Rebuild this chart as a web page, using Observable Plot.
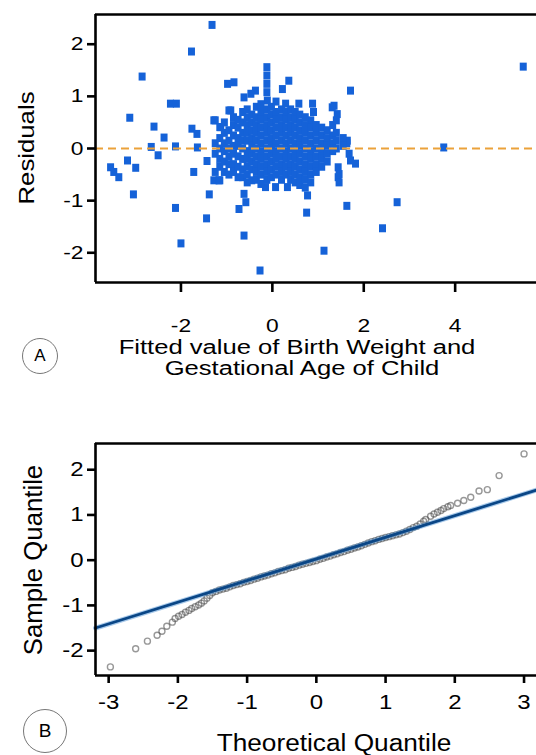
<!DOCTYPE html>
<html><head><meta charset="utf-8">
<script src="https://cdn.jsdelivr.net/npm/d3@7"></script>
<script src="https://cdn.jsdelivr.net/npm/@observablehq/plot@0.6"></script>
<style>
body{margin:0;background:#fff;font-family:"Liberation Sans",Arial,sans-serif;}
#wrap{position:relative;width:536px;height:755px;overflow:hidden;background:#fff}
#wrap svg{position:absolute;left:0}
.t{position:absolute;white-space:nowrap;color:#000;line-height:1;font-family:"Liberation Sans",Arial,sans-serif}
.circ{position:absolute;border:1px solid #777;border-radius:50%;background:#fff;display:flex;align-items:center;justify-content:center;font-family:"Liberation Sans",Arial,sans-serif;color:#000;box-sizing:border-box}
</style></head>
<body><div id="wrap"></div>
<script>
// ---------- Panel A data: fitted value vs residual ----------
const outliersA = [
  [-1.32,2.37],[-1.77,1.86],[-2.85,1.38],[-2.23,0.86],[-2.10,0.86],[-3.12,0.59],
  [-2.59,0.42],[-2.37,0.21],[-2.65,0.03],[-2.50,-0.13],[-2.12,0.04],[-1.64,0.02],
  [-1.76,0.38],[-1.65,0.28],[-3.54,-0.36],[-3.47,-0.45],[-3.36,-0.55],[-3.17,-0.23],
  [-2.99,-0.37],[-3.04,-0.88],[-2.12,-1.14],[-2.00,-1.82],[-1.72,-0.45],[-1.38,-0.88],
  [-1.44,-1.34],[-0.62,-1.67],[-0.27,-2.34],[-1.43,-0.24],[-1.28,-0.61],[-1.17,-0.61],
  [-0.73,-1.16],[-0.62,-0.87],[-0.58,-1.03],[-0.98,1.24],[-0.84,1.27],[-0.37,1.11],
  [-0.47,1.05],[-0.62,0.98],[-0.91,0.73],[-1.28,0.54],[-1.13,0.41],[-0.12,1.56],
  [-0.12,1.40],[-0.12,1.24],[-0.12,1.08],[-0.11,0.92],[0.36,1.30],[0.22,1.14],
  [1.71,1.11],[0.88,0.86],[1.35,0.82],[1.42,0.66],[1.31,0.79],[0.58,0.86],[0.29,0.86],
  [0.84,0.54],[1.64,0.15],[1.63,0.10],[1.82,-0.29],[1.68,-0.10],[1.44,-0.36],[1.44,-0.55],
  [1.46,-0.49],[1.46,-0.65],[1.71,-0.23],[1.63,-1.10],[0.75,-1.23],[1.13,-1.96],
  [2.41,-1.53],[2.73,-1.03],[3.75,0.02],[5.49,1.57],[0.77,-0.90],[-0.15,-0.74],
  [0.07,-0.74],[0.33,-0.74]
];
const clusterColumnsA = [
  [-1.25,[0.54,0.10,-0.10,-0.45]],
  [-1.15,[0.41,0.20,0.00,-0.20,-0.35,-0.61]],
  [-1.05,[0.50,0.30,0.10,-0.05,-0.25,-0.45]],
  [-0.95,[0.73,0.35,0.15,0.00,-0.15,-0.30,-0.50]],
  [-0.85,[0.60,0.45,0.25,0.05,-0.10,-0.30,-0.45]],
  [-0.75,[0.55,0.40,0.20,0.05,-0.15,-0.35,-0.55]],
  [-0.65,[0.70,0.50,0.30,0.15,0.00,-0.20,-0.40,-0.55]],
  [-0.55,[0.75,0.60,0.45,0.30,0.15,-0.05,-0.20,-0.35,-0.50,-0.65]],
  [-0.45,[0.65,0.50,0.35,0.20,0.05,-0.10,-0.25,-0.40,-0.61]],
  [-0.35,[0.80,0.60,0.45,0.30,0.15,0.00,-0.15,-0.30,-0.45,-0.60]],
  [-0.25,[0.85,0.70,0.55,0.40,0.25,0.10,-0.05,-0.20,-0.35,-0.50,-0.68]],
  [-0.12,[0.75,0.60,0.45,0.30,0.15,0.00,-0.15,-0.30,-0.45,-0.60]],
  [-0.02,[0.80,0.65,0.50,0.35,0.20,0.05,-0.10,-0.25,-0.40,-0.55]],
  [0.08,[0.90,0.70,0.55,0.40,0.25,0.10,-0.05,-0.20,-0.35,-0.50]],
  [0.20,[0.75,0.60,0.45,0.30,0.15,0.00,-0.15,-0.30,-0.45,-0.60]],
  [0.30,[0.70,0.55,0.40,0.25,0.10,-0.05,-0.20,-0.35,-0.50]],
  [0.40,[0.75,0.60,0.45,0.30,0.15,0.00,-0.15,-0.30,-0.45,-0.60]],
  [0.50,[0.70,0.55,0.40,0.25,0.10,-0.05,-0.20,-0.35,-0.50,-0.65]],
  [0.60,[0.65,0.50,0.35,0.20,0.05,-0.10,-0.25,-0.40,-0.55,-0.70]],
  [0.72,[0.60,0.45,0.30,0.15,0.00,-0.15,-0.30,-0.45,-0.60,-0.75]],
  [0.84,[0.40,0.25,0.10,-0.05,-0.20,-0.35,-0.50,-0.65]],
  [0.90,[0.70]],
  [0.96,[0.45,0.30,0.15,0.00,-0.15,-0.30,-0.45]],
  [1.08,[0.40,0.25,0.10,-0.05,-0.20,-0.35]],
  [1.20,[0.35,0.20,0.05,-0.10,-0.25]],
  [1.32,[0.45,0.25,0.10,-0.05]],
  [1.40,[0.54,0.30,0.15,0.00]],
  [1.55,[0.20,0.05]]
];
const residualsA = outliersA.concat(clusterColumnsA.flatMap(([x, ys]) => ys.map(y => [x, y])));
const xTicksA = [-2, 0, 2, 4];
const yTicksA = [-2, -1, 0, 1, 2];
const xDomainA = [-3.87, 5.78];
const yDomainA = [-2.57, 2.57];

// ---------- Panel B data: normal Q-Q plot ----------
const qqTheoretical = [
  -2.975,-2.61,-2.44,-2.30,-2.23,-2.16,-2.08,-2.04,-1.99,-1.94,-1.89,-1.84,-1.80,-1.75,-1.70,-1.66,-1.62,-1.58,-1.54,
  -1.50,-1.45,-1.40,-1.35,-1.30,-1.25,-1.20,-1.15,-1.10,-1.05,-1.00,-0.95,-0.90,-0.85,-0.80,-0.75,-0.70,-0.65,-0.60,
  -0.55,-0.50,-0.45,-0.40,-0.35,-0.30,-0.25,-0.20,-0.15,-0.10,-0.05,0.00,0.05,0.10,0.15,0.20,0.25,0.30,0.35,0.40,
  0.45,0.50,0.55,0.60,0.65,0.70,0.75,0.80,0.85,0.90,0.95,1.00,1.05,1.10,1.15,1.20,1.25,1.30,1.35,1.40,1.45,
  1.50,1.55,1.58,1.65,1.70,1.75,1.80,1.84,1.90,1.94,2.04,2.13,2.23,2.35,2.47,2.64,3.00
];
const qqSample = [
  -2.36,-1.96,-1.79,-1.66,-1.57,-1.46,-1.37,-1.29,-1.24,-1.20,-1.15,-1.11,-1.07,-1.03,-0.99,-0.95,-0.90,-0.84,-0.78,
  -0.72,-0.69,-0.66,-0.64,-0.62,-0.59,-0.56,-0.54,-0.52,-0.49,-0.47,-0.45,-0.42,-0.40,-0.37,-0.35,-0.33,-0.30,-0.28,
  -0.25,-0.23,-0.21,-0.18,-0.16,-0.14,-0.11,-0.09,-0.07,-0.05,-0.03,-0.01,0.02,0.04,0.07,0.09,0.12,0.14,0.17,0.19,
  0.22,0.24,0.27,0.29,0.32,0.35,0.38,0.41,0.43,0.46,0.48,0.50,0.52,0.54,0.56,0.58,0.61,0.64,0.68,0.72,0.75,
  0.80,0.86,0.90,0.97,1.02,1.06,1.10,1.14,1.18,1.21,1.26,1.32,1.39,1.53,1.56,1.87,2.35
];
const qqPoints = qqTheoretical.map((x, i) => ({x, y: qqSample[i]}));
const qqLine = [{x: -3.19, y: -1.50}, {x: 3.18, y: 1.55}];
const xTicksB = [-3, -2, -1, 0, 1, 2, 3];
const yTicksB = [-2, -1, 0, 1, 2];
const xDomainB = [-3.19, 3.18];
const yDomainB = [-2.55, 2.58];

// ---------- rendering ----------
const FONT = "Liberation Sans, Arial, sans-serif";
const fmt = d => String(d);
const rectSymbol = {draw(ctx) { ctx.rect(-3.5, -4, 7, 8); }};

function stretchTicks(svg, s) {
  svg.querySelectorAll('g[aria-label="x-axis tick label"] text, g[aria-label="y-axis tick label"] text').forEach(t => {
    const tr = t.getAttribute("transform");
    if (tr) t.setAttribute("transform", tr + ` scale(${s},1)`);
  });
}

const wrap = document.getElementById("wrap");

const plotA = Plot.plot({
  width: 536, height: 345, marginTop: 14, marginLeft: 95, marginRight: 0, marginBottom: 63,
  style: {fontFamily: FONT, color: "#000", background: "transparent", overflow: "visible"},
  x: {domain: xDomainA}, y: {domain: yDomainA},
  marks: [
    Plot.dot(residualsA, {x: d => d[0], y: d => d[1], symbol: rectSymbol, r: 4, fill: "#1562d8"}),
    Plot.ruleY([0], {stroke: "#eba23a", strokeWidth: 2.2, strokeDasharray: "8,5"}),
    Plot.ruleX([xDomainA[0]], {stroke: "#000", strokeWidth: 2.6}),
    Plot.ruleY([yDomainA[0], yDomainA[1]], {stroke: "#000", strokeWidth: 2.6}),
    Plot.axisX({ticks: xTicksA, tickFormat: fmt, tickSize: 10, tickPadding: 26, fontSize: 19, strokeWidth: 2.6, label: null}),
    Plot.axisY({ticks: yTicksA, tickFormat: fmt, tickSize: 8, tickPadding: 4, fontSize: 19, strokeWidth: 2.6, label: null})
  ]
});
plotA.style.top = "0px";
stretchTicks(plotA, 1.2);
wrap.appendChild(plotA);

const plotB = Plot.plot({
  width: 536, height: 290, marginTop: 13, marginLeft: 95, marginRight: 0, marginBottom: 45,
  style: {fontFamily: FONT, color: "#000", background: "transparent", overflow: "visible"},
  x: {domain: xDomainB}, y: {domain: yDomainB},
  marks: [
    Plot.dot(qqPoints, {x: "x", y: "y", r: 3, stroke: "#444", strokeOpacity: 0.55, strokeWidth: 1.4, fill: "none"}),
    Plot.line(qqLine, {x: "x", y: "y", stroke: "#4f93d6", strokeOpacity: 0.5, strokeWidth: 5}),
    Plot.line(qqLine, {x: "x", y: "y", stroke: "#0a4686", strokeWidth: 2.8}),
    Plot.ruleX([xDomainB[0]], {stroke: "#000", strokeWidth: 2.6}),
    Plot.ruleY([yDomainB[0], yDomainB[1]], {stroke: "#000", strokeWidth: 2.6}),
    Plot.axisX({ticks: xTicksB, tickFormat: fmt, tickSize: 8, tickPadding: 11, fontSize: 20, strokeWidth: 2.6, label: null}),
    Plot.axisY({ticks: yTicksB, tickFormat: fmt, tickSize: 8, tickPadding: 4, fontSize: 20, strokeWidth: 2.6, label: null})
  ]
});
plotB.style.top = "430px";
stretchTicks(plotB, 1.2);
wrap.appendChild(plotB);

// ---------- text labels ----------
function addText(txt, cx, cy, size, sx, rotate) {
  const d = document.createElement("div");
  d.className = "t";
  d.textContent = txt;
  d.style.left = cx + "px";
  d.style.top = cy + "px";
  d.style.fontSize = size + "px";
  d.style.transform = `translate(-50%,-50%)${rotate ? " rotate(-90deg)" : ""} scaleX(${sx})`;
  wrap.appendChild(d);
}
function addCircle(txt, cx, cy, r, size) {
  const d = document.createElement("div");
  d.className = "circ";
  d.textContent = txt;
  d.style.left = (cx - r) + "px";
  d.style.top = (cy - r) + "px";
  d.style.width = d.style.height = (2 * r) + "px";
  d.style.fontSize = size + "px";
  wrap.appendChild(d);
}
addText("Residuals", 27, 148, 22, 1.17, true);
addText("Fitted value of Birth Weight and", 297, 347, 20, 1.28, false);
addText("Gestational Age of Child", 302, 368, 20, 1.28, false);
addCircle("A", 40, 356, 18, 17);

addText("Sample Quantile", 33, 560, 25, 1.03, true);
addText("Theoretical Quantile", 334, 743, 23, 1.14, false);
addCircle("B", 45, 731, 22, 19);
</script>
</body></html>
